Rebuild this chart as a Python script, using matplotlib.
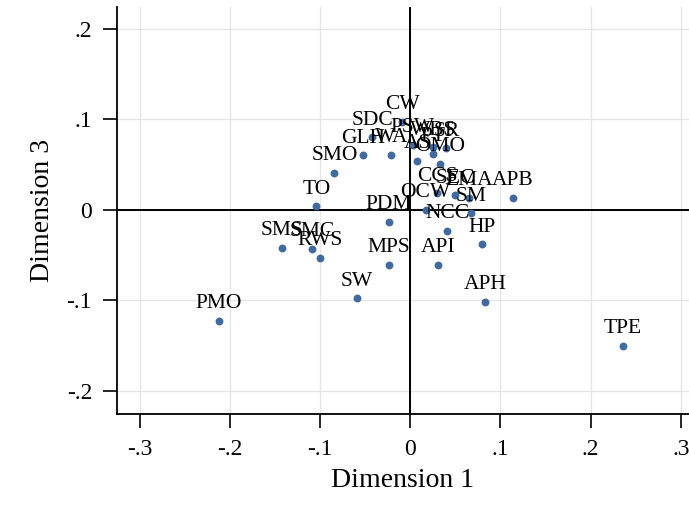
import matplotlib
matplotlib.use('Agg')
from matplotlib import pyplot as plt

labels = ['CW', 'SDC', 'GLH', 'WA', 'PSW', 'AS', 'WBS', 'SR', 'PT', 'OMO',
          'SMO', 'TO', 'PDM', 'OCW', 'NCC', 'SM', 'CCS', 'SEC', 'EMA', 'APB',
          'HP', 'API', 'MPS', 'SW', 'APH', 'PMO', 'TPE', 'SMS', 'SMC', 'RWS']
dim1 = [-0.009, -0.042, -0.052, -0.021, 0.003, 0.008, 0.025, 0.040, 0.025, 0.033,
        -0.084, -0.104, -0.024, 0.017, 0.041, 0.067, 0.030, 0.050, 0.065, 0.114,
        0.080, 0.031, -0.024, -0.059, 0.083, -0.212, 0.236, -0.142, -0.109, -0.100]
dim3 = [0.097, 0.080, 0.060, 0.061, 0.072, 0.054, 0.069, 0.068, 0.062, 0.051,
        0.041, 0.004, -0.013, 0.000, -0.023, -0.004, 0.018, 0.016, 0.013, 0.013,
        -0.038, -0.061, -0.061, -0.098, -0.102, -0.123, -0.150, -0.042, -0.043, -0.053]

xticks = [-0.3, -0.2, -0.1, 0, 0.1, 0.2, 0.3]
yticks = [-0.2, -0.1, 0, 0.1, 0.2]
xticklabels = ['-.3', '-.2', '-.1', '0', '.1', '.2', '.3']
yticklabels = ['-.2', '-.1', '0', '.1', '.2']

plt.rcParams['font.family'] = ['Liberation Serif', 'DejaVu Serif']

fig = plt.figure(figsize=(6.89, 5.05), dpi=100)
ax = fig.add_axes([117 / 689, 1 - 414 / 505, 1 - 117 / 689, (414 - 7) / 505])

ax.set_xlim(-0.325, 0.309)
ax.set_ylim(-0.2256, 0.224)
ax.grid(True, color='#e6e6e6', linewidth=1)
ax.set_axisbelow(True)
ax.axhline(0, color='black', linewidth=1.4, zorder=1)
ax.axvline(0, color='black', linewidth=1.4, zorder=1)

ax.scatter(dim1, dim3, s=32, color='#416a9e', zorder=3, linewidths=0)
for lab, x, y in zip(labels, dim1, dim3):
    ax.annotate(lab, (x, y), xytext=(0, 5.5), textcoords='offset points',
                ha='center', va='bottom', fontsize=15.5, zorder=4)

ax.set_xticks(xticks)
ax.set_xticklabels(xticklabels)
ax.set_yticks(yticks)
ax.set_yticklabels(yticklabels)
ax.tick_params(axis='both', direction='out', length=10, width=1.2, labelsize=17, pad=8)
for s in ['top', 'right']:
    ax.spines[s].set_visible(False)
for s in ['left', 'bottom']:
    ax.spines[s].set_linewidth(1.3)
ax.set_xlabel('Dimension 1', fontsize=20, labelpad=6)
ax.set_ylabel('Dimension 3', fontsize=20, labelpad=8)

fig.savefig('out.png', dpi=100)
